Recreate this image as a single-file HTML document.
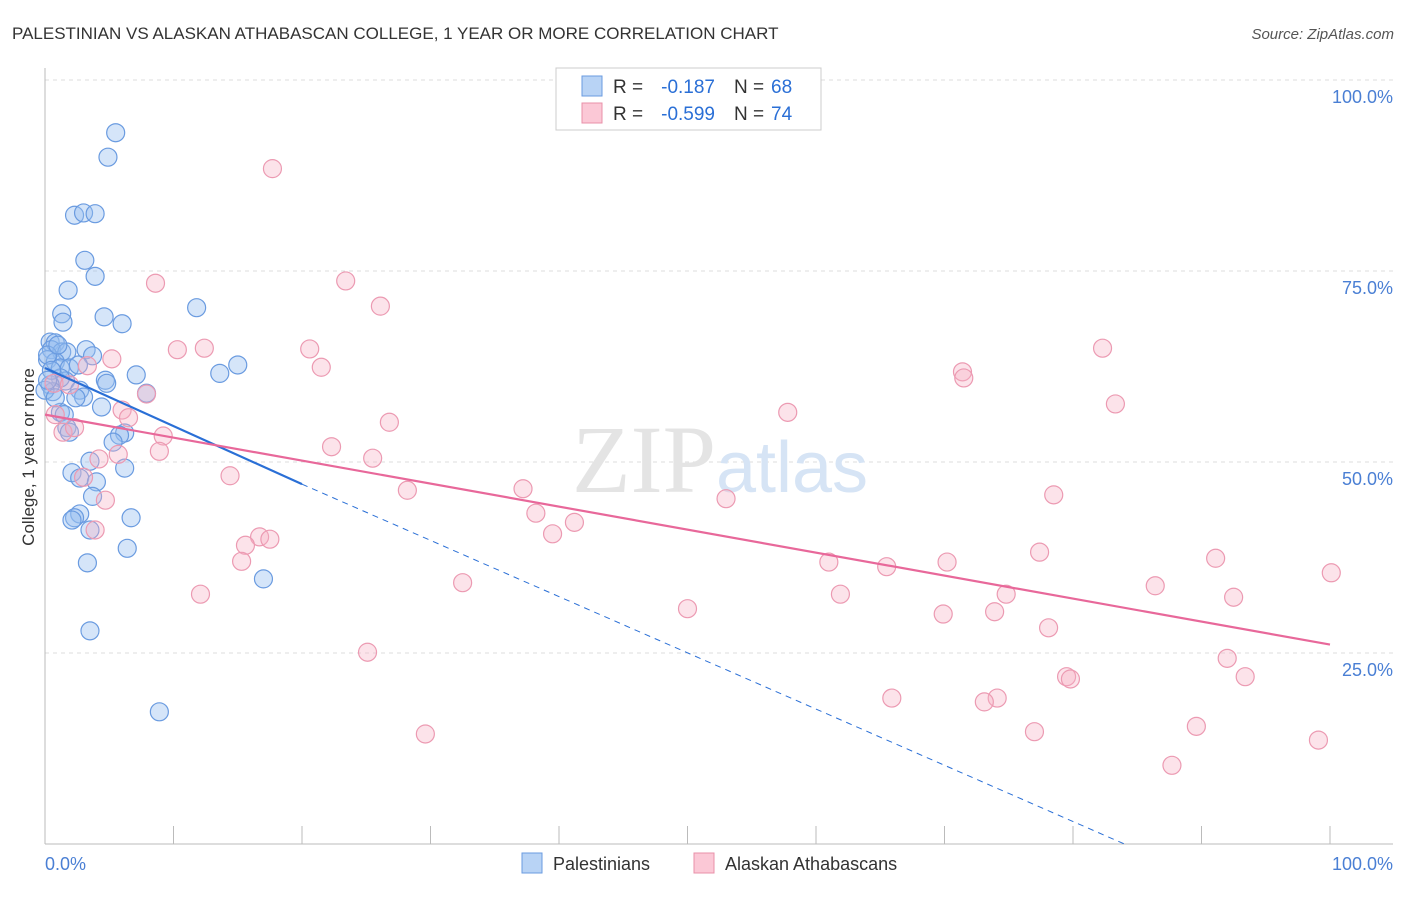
<!DOCTYPE html>
<html><head><meta charset="utf-8"><style>
body{margin:0;background:#fff;font-family:"Liberation Sans",sans-serif}
</style></head><body>
<svg id="chart" width="1406" height="892" xmlns="http://www.w3.org/2000/svg" font-family="Liberation Sans, sans-serif">
<text x="12" y="39" font-size="17" fill="#333">PALESTINIAN VS ALASKAN ATHABASCAN COLLEGE, 1 YEAR OR MORE CORRELATION CHART</text>
<text x="1394" y="39" font-size="15" fill="#555" text-anchor="end" font-style="italic">Source: ZipAtlas.com</text>
<g id="grid"></g>
<text x="720" y="492" font-size="96" text-anchor="middle" fill="#e4e4e4" font-family="Liberation Serif, serif">ZIP<tspan fill="#d6e4f5" font-family="Liberation Sans, sans-serif" font-size="72">atlas</tspan></text>
<line x1="45" y1="68" x2="45" y2="844" stroke="#bbb"/>
<line x1="45" y1="844" x2="1393" y2="844" stroke="#bbb"/>
<text transform="translate(34,457) rotate(-90)" font-size="17" fill="#333" text-anchor="middle">College, 1 year or more</text>
<text x="45" y="870" font-size="18" fill="#4a7fd4">0.0%</text>
<text x="1393" y="870" font-size="18" fill="#4a7fd4" text-anchor="end">100.0%</text>
<g id="pts"></g>
<g id="lines"></g>
<g>
<rect x="556" y="68" width="265" height="62" fill="#fff" stroke="#ccc"/>
<rect x="582" y="76" width="20" height="20" fill="#b8d3f5" stroke="#6a9be0"/>
<rect x="582" y="103" width="20" height="20" fill="#fbc8d6" stroke="#e890a8"/>
<text x="613" y="93" font-size="19" fill="#333">R =</text>
<text x="715" y="93" font-size="19" fill="#2a6fd6" text-anchor="end">-0.187</text>
<text x="734" y="93" font-size="19" fill="#333">N =</text>
<text x="771" y="93" font-size="19" fill="#2a6fd6">68</text>
<text x="613" y="120" font-size="19" fill="#333">R =</text>
<text x="715" y="120" font-size="19" fill="#2a6fd6" text-anchor="end">-0.599</text>
<text x="734" y="120" font-size="19" fill="#333">N =</text>
<text x="771" y="120" font-size="19" fill="#2a6fd6">74</text>
</g>
<g>
<rect x="522" y="853" width="20" height="20" fill="#b8d3f5" stroke="#6a9be0"/>
<text x="553" y="870" font-size="18" fill="#333">Palestinians</text>
<rect x="694" y="853" width="20" height="20" fill="#fbc8d6" stroke="#e890a8"/>
<text x="725" y="870" font-size="18" fill="#333">Alaskan Athabascans</text>
</g>
</svg>
<script>
const yTicks=[25,50,75,100];
const yTickLabels=["25.0%","50.0%","75.0%","100.0%"];
const xTicks=[0,10,20,30,40,50,60,70,80,90,100];
const bluePx=[[116,133],[108,157],[74,215],[83,213],[95,214],[85,260],[95,276],[68,290],[197,308],[62,314],[63,322],[104,317],[122,324],[50,342],[55,343],[52,350],[62,352],[86,350],[92,356],[67,352],[48,360],[55,362],[60,368],[70,368],[78,365],[238,365],[220,373],[136,375],[105,380],[107,383],[66,381],[60,378],[50,385],[53,392],[80,390],[84,397],[76,398],[147,393],[102,407],[60,412],[64,415],[67,428],[70,432],[125,433],[120,435],[113,442],[90,461],[125,468],[72,473],[80,478],[97,482],[93,496],[80,514],[75,518],[72,520],[90,530],[131,518],[127,548],[87,563],[263,579],[90,631],[159,712],[48,355],[52,370],[58,345],[45,390],[55,398],[48,380]];
const pinkPx=[[272,169],[155,283],[346,281],[380,306],[204,348],[177,350],[310,349],[321,367],[112,359],[88,366],[962,372],[964,378],[1102,348],[54,383],[69,385],[146,394],[1115,404],[122,410],[128,418],[788,412],[389,422],[55,415],[63,432],[74,428],[163,436],[160,451],[331,447],[373,458],[118,454],[99,459],[230,476],[83,477],[408,490],[523,489],[1054,495],[106,500],[726,499],[536,513],[574,522],[95,530],[552,534],[260,537],[270,539],[246,545],[241,561],[1040,552],[1215,558],[1331,573],[829,562],[887,567],[947,562],[462,583],[1155,586],[840,594],[1006,594],[200,594],[1234,597],[688,609],[943,614],[995,612],[1049,628],[367,652],[1227,658],[1067,677],[1070,679],[1245,677],[892,698],[997,698],[984,702],[426,734],[1034,732],[1196,726],[1319,740],[1172,765]];
// convert read positions to data values (percent)
const blueX=bluePx.map(p=>+((p[0]-45)/12.85).toFixed(1));
const blueY=bluePx.map(p=>+((844-p[1])/7.64).toFixed(1));
const pinkX=pinkPx.map(p=>+((p[0]-45)/12.85).toFixed(1));
const pinkY=pinkPx.map(p=>+((844-p[1])/7.64).toFixed(1));
const blueTrend=[[0,62.3],[20,47.1],[84,0]];
const pinkTrend=[[0,56.2],[100,26.1]];
const sx=v=>45+v*12.85, sy=v=>844-v*7.64;
const NS="http://www.w3.org/2000/svg";
function mk(t,a,parent){const e=document.createElementNS(NS,t);for(const k in a)e.setAttribute(k,a[k]);parent.appendChild(e);return e;}
const grid=document.getElementById('grid');
yTicks.forEach((v,i)=>{
 const l=mk('line',{x1:45,x2:1393,y1:sy(v),y2:sy(v),stroke:'#ddd','stroke-dasharray':'4,4'},grid);
 
 
 const t=mk('text',{x:1393,y:sy(v)+23,'font-size':18,fill:'#4a7fd4','text-anchor':'end'},grid);
 t.textContent=yTickLabels[i];
 
 
});
xTicks.forEach(v=>{
 const l=mk('line',{x1:sx(v),x2:sx(v),y1:826,y2:844,stroke:'#bbb'},grid);
 
 
});
const pts=document.getElementById('pts');
blueX.forEach((x,i)=>{const c=mk('circle',{cx:sx(x),cy:sy(blueY[i]),r:9,fill:'rgba(150,190,240,0.4)',stroke:'#6a9be0','stroke-width':1.2},pts);
 
 });
pinkX.forEach((x,i)=>{const c=mk('circle',{cx:sx(x),cy:sy(pinkY[i]),r:9,fill:'rgba(245,175,195,0.35)',stroke:'#ec9ab2','stroke-width':1.2},pts);
 
 });
const lines=document.getElementById('lines');
let l=mk('line',{x1:sx(blueTrend[0][0]),y1:sy(blueTrend[0][1]),x2:sx(blueTrend[1][0]),y2:sy(blueTrend[1][1]),stroke:'#2a6fd6','stroke-width':2.2},lines);


l=mk('line',{x1:sx(blueTrend[1][0]),y1:sy(blueTrend[1][1]),x2:sx(blueTrend[2][0]),y2:sy(blueTrend[2][1]),stroke:'#2a6fd6','stroke-width':1,'stroke-dasharray':'6,5'},lines);


l=mk('line',{x1:sx(pinkTrend[0][0]),y1:sy(pinkTrend[0][1]),x2:sx(pinkTrend[1][0]),y2:sy(pinkTrend[1][1]),stroke:'#e8689a','stroke-width':2.2},lines);


</script>
</body></html>
